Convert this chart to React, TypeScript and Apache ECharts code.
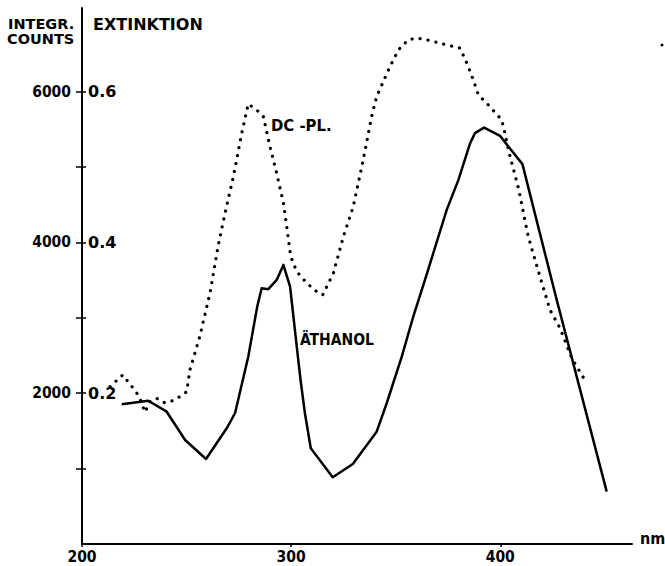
import React, { useEffect, useRef } from 'react';
import * as echarts from 'echarts';

// ÄTHANOL (solid line): wavelength in nm and integrated counts
const ethanolNm = [219, 231.7, 240.5, 249.3, 259.3, 269.2, 273.2, 279.5, 283.8, 285.9, 289.1, 293.1, 296.3, 299.5, 302.7, 304.5, 306.6, 309.4, 319.9, 329.5, 340.9, 345.7, 352.9, 358.4, 364, 374.4, 380, 385.6, 387.9, 392.3, 399.9, 410.6, 427, 450.9];
const ethanolCounts = [1855, 1900, 1755, 1380, 1128, 1535, 1738, 2485, 3149, 3393, 3380, 3503, 3702, 3414, 2618, 2176, 1734, 1270, 885, 1062, 1490, 1867, 2485, 3016, 3503, 4432, 4830, 5317, 5450, 5524, 5414, 5039, 3238, 694];

// DC-PL. (dotted line)
const dcplNm = [213.4, 219.5, 224.5, 227.4, 230.1, 232.5, 235.7, 239.7, 244.5, 250.1, 251.6, 256.4, 261.2, 265.2, 268.4, 272.4, 276.4, 279.5, 284.3, 286.7, 289.9, 293.1, 296.3, 297.9, 299.8, 302.7, 307.5, 312.2, 315.1, 320.2, 325.0, 329.7, 334.5, 338.5, 340.9, 344.1, 347.3, 351.3, 356.0, 360.1, 364.8, 372.8, 380.8, 384.0, 387.1, 389.5, 393.5, 400.7, 404.7, 408.7, 413.4, 419.0, 423.8, 428.6, 434.2, 441.4];
const dcplCounts = [2087, 2243, 2066, 1955, 1748, 1888, 1933, 1871, 1911, 2021, 2309, 2760, 3327, 3968, 4388, 4874, 5450, 5839, 5737, 5670, 5272, 4919, 4521, 4211, 3812, 3613, 3460, 3348, 3304, 3592, 4078, 4476, 5096, 5670, 5936, 6135, 6334, 6555, 6688, 6711, 6688, 6631, 6578, 6379, 6157, 5958, 5848, 5626, 5140, 4720, 4078, 3547, 3105, 2862, 2464, 2132];

// Axis ticks and labels
const nmTicks = [200, 300, 400];
const countTicks = [1000, 2000, 3000, 4000, 5000, 6000];
const countLabels = [2000, 4000, 6000];
const extTicks = [0.1, 0.2, 0.3, 0.4, 0.5, 0.6];
const extLabels = [0.2, 0.4, 0.6];

const seriesLabels = ['DC -PL.', 'ÄTHANOL'];
const axisTitles = ['INTEGR.', 'COUNTS', 'EXTINKTION', 'nm'];

const COND = '"DejaVu Sans Condensed", "DejaVu Sans", sans-serif';
const WIDE = '"DejaVu Sans", sans-serif';

export default function App() {
  const ref = useRef<HTMLDivElement>(null);

  useEffect(() => {
    if (!ref.current) return;
    const chart = echarts.init(ref.current, null, { renderer: 'svg' });
    const lbl = (size: number, family = COND) => ({ fontFamily: family, fontWeight: 'bold', fontSize: size, color: '#000' });
    const txt = (text: string, x: number, y: number, size: number, family = COND) => ({
      type: 'text',
      x,
      y,
      style: { text, fontFamily: family, fontWeight: 'bold', fontSize: size, fill: '#000', verticalAlign: 'middle', align: 'left' },
    });
    chart.setOption({
      animation: false,
      backgroundColor: '#fff',
      grid: { left: 82, right: 33, top: 8, bottom: 22 },
      xAxis: {
        type: 'value',
        min: 200,
        max: 463,
        interval: 100,
        splitLine: { show: false },
        axisLine: { show: true, lineStyle: { color: '#000', width: 2 } },
        axisTick: { show: true, length: 3, customValues: nmTicks, lineStyle: { color: '#000', width: 1.5 } },
        axisLabel: { customValues: nmTicks, margin: 5, formatter: (v: number) => String(v), ...lbl(15.5) },
      },
      yAxis: [
        {
          type: 'value',
          min: 0,
          max: 7110,
          position: 'left',
          splitLine: { show: false },
          axisLine: { show: true, lineStyle: { color: '#000', width: 2 } },
          axisTick: { show: true, length: 6, customValues: countTicks, lineStyle: { color: '#000', width: 1.5 } },
          axisLabel: { customValues: countLabels, margin: 11, formatter: (v: number) => String(v), ...lbl(15.5) },
        },
        {
          type: 'value',
          min: 0,
          max: 0.711,
          position: 'left',
          splitLine: { show: false },
          axisLine: { show: false },
          axisTick: { show: true, inside: true, length: 4, customValues: extTicks, lineStyle: { color: '#000', width: 1.5 } },
          axisLabel: { inside: true, customValues: extLabels, margin: 6, formatter: (v: number) => v.toFixed(1), ...lbl(16, WIDE) },
        },
      ],
      graphic: [
        txt(axisTitles[0], 8, 24, 14.5, WIDE),
        txt(axisTitles[1], 7, 39, 14.5, WIDE),
        txt(axisTitles[2], 93, 24, 16, WIDE),
        txt(axisTitles[3], 640, 538, 16),
        txt(seriesLabels[0], 271, 125, 16.5),
        txt(seriesLabels[1], 300, 340, 15.5),
        { type: 'circle', shape: { cx: 662, cy: 45, r: 1.5 }, style: { fill: '#000' } },
      ],
      series: [
        {
          name: seriesLabels[0],
          type: 'line',
          data: dcplNm.map((x, i) => [x, dcplCounts[i]]),
          showSymbol: false,
          symbol: 'none',
          lineStyle: { color: '#000', width: 3.2, type: [0.1, 8], cap: 'round', join: 'round' },
        },
        {
          name: seriesLabels[1],
          type: 'line',
          data: ethanolNm.map((x, i) => [x, ethanolCounts[i]]),
          showSymbol: false,
          symbol: 'none',
          lineStyle: { color: '#000', width: 2.5, join: 'round' },
        },
      ],
    });
    return () => chart.dispose();
  }, []);

  return <div ref={ref} style={{ position: 'fixed', left: 0, top: 0, width: 665, height: 566 }} />;
}
